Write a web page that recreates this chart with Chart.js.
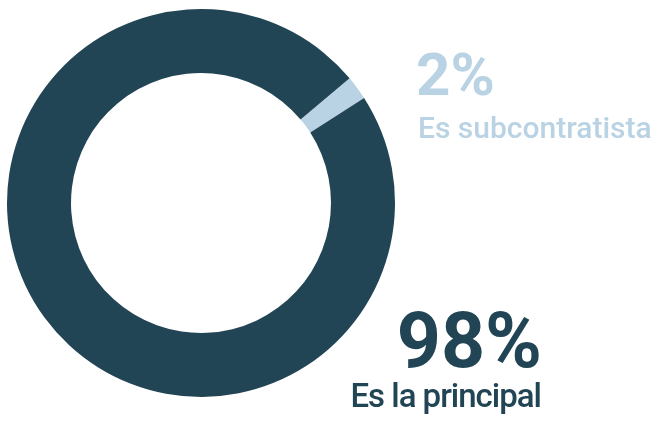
<!DOCTYPE html>
<html>
<head>
<meta charset="utf-8">
<script src="https://cdn.jsdelivr.net/npm/chart.js@4"></script>
<style>
  html, body { margin: 0; padding: 0; background: #ffffff; }
  #wrap { position: relative; width: 659px; height: 421px; }
</style>
</head>
<body>
<div id="wrap"><canvas id="donut" width="659" height="421"></canvas></div>
<script>
// chart data
const labels = ['Es subcontratista', 'Es la principal'];
const values = [2, 98];
const colors = ['#b9d3e4', '#224555'];

// draws the big percent + caption next to each slice
const labelPlugin = {
    id: 'sideLabels',
    afterDraw(chart) {
        const ctx = chart.ctx;
        ctx.save();

        // small slice, top right, left aligned
        ctx.fillStyle = colors[0];
        ctx.textAlign = 'left';
        ctx.textBaseline = 'alphabetic';
        ctx.font = 'bold 60px Roboto';
        ctx.fillText(values[0] + '%', 416, 95);
        ctx.font = '500 30px Roboto';
        ctx.fillText(labels[0], 418, 138);

        // big slice, bottom right, right aligned
        ctx.fillStyle = colors[1];
        ctx.textAlign = 'right';
        ctx.font = 'bold 77px Roboto';
        ctx.fillText(values[1] + '%', 542, 367);
        ctx.font = '500 33px Roboto';
        ctx.letterSpacing = '-1px';
        ctx.fillText(labels[1], 541, 407);

        ctx.restore();
    }
};

const ctx = document.getElementById('donut').getContext('2d');
new Chart(ctx, {
    type: 'doughnut',
    data: {
        labels: labels,
        datasets: [{
            data: values,
            backgroundColor: colors,
            borderWidth: 0
        }]
    },
    options: {
        responsive: false,
        animation: false,
        rotation: 50,
        cutout: '67%',
        layout: {
            padding: { left: 7, top: 9, right: 264, bottom: 24 }
        },
        plugins: {
            legend: { display: false },
            tooltip: { enabled: false }
        }
    },
    plugins: [labelPlugin]
});
</script>
</body>
</html>
